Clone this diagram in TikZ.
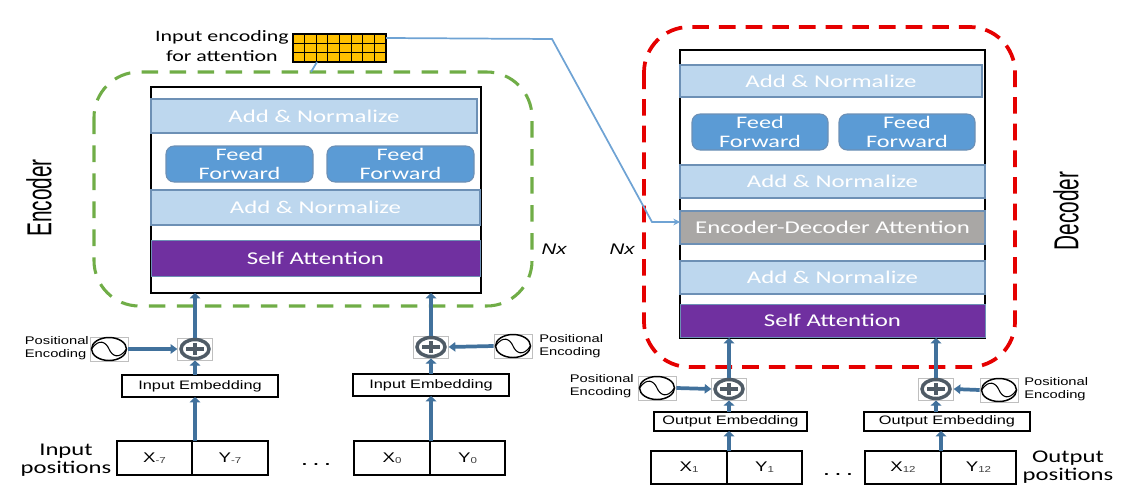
\documentclass[tikz,border=0pt]{standalone}
\usepackage{fontspec}
\setmainfont{Carlito}
\newfontfamily\stretchfont[FakeStretch=1.38]{Carlito}
\newfontfamily\labelfont[FakeStretch=1.33]{Liberation Sans}
\newfontfamily\tallfont[FakeStretch=0.6]{Liberation Sans}
\usetikzlibrary{arrows.meta,calc}
\definecolor{addfill}{HTML}{BDD7EE}
\definecolor{addedge}{HTML}{6D90B5}
\definecolor{ffill}{HTML}{5B9BD5}
\definecolor{purp}{HTML}{7030A0}
\definecolor{greyfill}{HTML}{A9A7A5}
\definecolor{flow}{HTML}{41719C}
\definecolor{attn}{HTML}{6FA3D4}
\definecolor{dgreen}{HTML}{70AD47}
\definecolor{plusc}{HTML}{4F5B66}
\definecolor{gridfill}{HTML}{FFC000}
\tikzset{
  x=0.75pt,y=-0.75pt,
  blk/.style 2 args={anchor=north west,minimum width=#1*0.75pt,minimum height=#2*0.75pt,inner sep=0pt,outer sep=0pt},
  stack/.style={draw=black,line width=2.2pt},
  addnorm/.style={draw=addedge,line width=0.8pt,fill=addfill,text=white,font=\stretchfont\fontsize{13.5}{13.5}\selectfont},
  feed/.style={draw=addedge,line width=0.8pt,fill=ffill,rounded corners=6pt,text=white,align=center,font=\stretchfont\fontsize{13.2}{13.8}\selectfont},
  selfatt/.style={draw=addedge,line width=0.5pt,fill=purp,text=white,font=\stretchfont\fontsize{13.5}{13.5}\selectfont},
  edatt/.style={draw=addedge,line width=0.8pt,fill=greyfill,text=white,font=\stretchfont\fontsize{13.5}{13.5}\selectfont},
  embed/.style={draw=black,line width=1.7pt,fill=white,font=\labelfont\fontsize{9.2}{10}\selectfont},
  cell/.style={draw=black,line width=1.7pt,fill=white,font=\labelfont\fontsize{10.5}{11}\selectfont},
  sinebox/.style={draw=black!25,line width=0.5pt,minimum width=28.5pt,minimum height=18pt,inner sep=0pt},
  plusbox/.style={draw=black!25,line width=0.5pt,minimum width=26pt,minimum height=16.5pt,inner sep=0pt},
  flowarrow/.style={draw=flow,line width=3.6pt,-{Triangle[length=4pt,width=8pt]}},
  flowthin/.style={draw=flow,line width=2.8pt,-{Triangle[length=5pt,width=7pt]}},
  attline/.style={draw=attn,line width=1.3pt},
  enc/.style={draw=dgreen,line width=2.3pt,dash pattern=on 12.5pt off 8.5pt,rounded corners=34pt},
  dec/.style={draw=red!90!black,line width=2.8pt,dash pattern=on 12.5pt off 7.5pt,rounded corners=34pt},
  small/.style={align=left,inner sep=0pt,font=\labelfont\fontsize{8.3}{9.3}\selectfont},
  biglabel/.style={align=center,inner sep=0pt,font=\stretchfont\fontsize{11.9}{14.5}\selectfont},
  poslabel/.style={align=center,inner sep=0pt,font=\stretchfont\fontsize{13.4}{13.6}\selectfont},
  side/.style={rotate=90,inner sep=0pt,font=\tallfont\fontsize{26}{26}\selectfont},
  nx/.style={inner sep=0pt,font=\labelfont\itshape\fontsize{11.5}{11.5}\selectfont},
  dots/.style={inner sep=0pt,font=\labelfont\bfseries\fontsize{10}{10}\selectfont},
}
\newcommand{\sinewave}[1]{%
  \draw[line width=1.1pt] (#1.center) circle [x radius=17.5,y radius=11.5];
  \draw[line width=0.8pt] ($(#1.center)+(-17.5,0)$) .. controls ($(#1.center)+(-10,-11)$) and ($(#1.center)+(-3,-7)$) .. (#1.center) .. controls ($(#1.center)+(3,7)$) and ($(#1.center)+(10,11)$) .. ($(#1.center)+(17.5,0)$);}
\newcommand{\plusmark}[1]{%
  \draw[draw=plusc,line width=2.6pt,fill=white] (#1.center) circle [x radius=14,y radius=9.5];
  \draw[draw=plusc,line width=2.3pt] ($(#1.center)+(-9,0)$) -- ($(#1.center)+(9,0)$) ($(#1.center)+(0,-6)$) -- ($(#1.center)+(0,6)$);}
\newcommand{\sub}[1]{\raisebox{-0.1ex}{\fontsize{6.5}{7}\selectfont\color{black!75} #1}}
\begin{document}
\begin{tikzpicture}
\useasboundingbox (0,0) rectangle (1130,492);
% encoder stack
\node[blk={330}{206},stack] (estack) at (151,87) {};
\node[blk={326}{34},addnorm] (ea2) at (151,99) {Add \& Normalize};
\node[blk={147}{36},feed] (ef1) at (166,146) {Feed\\Forward};
\node[blk={147}{36},feed] (ef2) at (327,146) {Feed\\Forward};
\node[blk={329}{35},addnorm] (ea1) at (151,190) {Add \& Normalize};
\node[blk={329}{36},selfatt] (esa) at (151,240) {Self Attention};
\draw[enc] (94,72) rectangle (532,306);
\node[side] (enclabel) at (39,198) {Encoder};
\node[nx] (nxl) at (554,249) {Nx};
% decoder stack
\node[blk={305}{288},stack] (dstack) at (680,50) {};
\node[blk={302}{32},addnorm] (da3) at (680,65) {Add \& Normalize};
\node[blk={136}{36},feed] (df1) at (692,114) {Feed\\Forward};
\node[blk={136}{36},feed] (df2) at (839,114) {Feed\\Forward};
\node[blk={305}{33},addnorm] (da2) at (680,165) {Add \& Normalize};
\node[blk={305}{33},edatt] (ded) at (680,211) {Encoder-Decoder Attention};
\node[blk={305}{33},addnorm] (da1) at (680,261) {Add \& Normalize};
\node[blk={305}{33},selfatt] (dsa) at (680,304) {Self Attention};
\draw[dec] (644,27) rectangle (1015,367);
\node[side] (declabel) at (1066,211) {Decoder};
\node[nx] (nxr) at (622,249) {Nx};
% attention grid
\node[blk={93}{28},draw=black,line width=1pt,fill=gridfill] (grid) at (293,34) {};
\foreach \i in {1,...,7} {\draw[black,line width=0.7pt] ($(grid.north west)+(\i*11.625,0)$) -- ($(grid.south west)+(\i*11.625,0)$);}
\foreach \j in {1,2} {\draw[black,line width=0.7pt] ($(grid.north west)+(0,\j*9.33)$) -- ($(grid.north east)+(0,\j*9.33)$);}
\node[biglabel,anchor=east] (gridlabel) at (289,46) {Input encoding\\for attention};
\coordinate (gridstub) at (311,72);
\coordinate (bend1) at (552,39);
\coordinate (bend2) at (652,222);
\draw[attline] (grid.south west) ++(24,0) -- (gridstub);
\draw[attline,-{Stealth[length=5pt,width=5pt]}] (grid.east |- 0,38) -- (bend1) -- (bend2) -- (ded.west |- bend2);
% bottom blocks
\node[blk={156}{22},embed] (e1) at (122,375) {Input Embedding};
\node[blk={156}{22},embed] (e2) at (353,374) {Input Embedding};
\node[blk={153}{19},embed] (e3) at (654,412) {Output Embedding};
\node[blk={166}{19},embed] (e4) at (864,412) {Output Embedding};
\node[blk={75}{34},cell] (x1) at (117,441) {X\sub{-7}};
\node[blk={76}{34},cell] (y1) at (192,441) {Y\sub{-7}};
\node[blk={76}{34},cell] (x2) at (354,441) {X\sub{0}};
\node[blk={75}{34},cell] (y2) at (430,441) {Y\sub{0}};
\node[blk={76}{33},cell] (x3) at (651,451) {X\sub{1}};
\node[blk={75}{33},cell] (y3) at (727,451) {Y\sub{1}};
\node[blk={76}{33},cell] (x4) at (865,451) {X\sub{12}};
\node[blk={75}{33},cell] (y4) at (941,451) {Y\sub{12}};
\node[poslabel] (inpos) at (66,460) {Input\\positions};
\node[poslabel] (outpos) at (1068,467) {Output\\positions};
\node[dots] (d1) at (316,465) {. . .};
\node[dots] (d2) at (838,475) {. . .};
% plus nodes
\node[plusbox] (p1) at (195,349) {};
\node[plusbox] (p2) at (431,347) {};
\node[plusbox] (p3) at (729,389) {};
\node[plusbox] (p4) at (936,389) {};
\plusmark{p1}\plusmark{p2}\plusmark{p3}\plusmark{p4}
% sine nodes
\node[sinebox] (s1) at (109,349) {};
\node[sinebox] (s2) at (513,346) {};
\node[sinebox] (s3) at (657,388) {};
\node[sinebox] (s4) at (999,390) {};
\sinewave{s1}\sinewave{s2}\sinewave{s3}\sinewave{s4}
\node[small,anchor=east] (t1) at (89,348) {Positional\\Encoding};
\node[small,anchor=west] (t2) at (539,346) {Positional\\Encoding};
\node[small,anchor=east] (t3) at (634,386) {Positional\\Encoding};
\node[small,anchor=west] (t4) at (1024,389) {Positional\\Encoding};
% flows
\draw[flowarrow] (x1.north -| p1) -- (e1.south -| p1);
\draw[flowarrow] (e1.north -| p1) -- (p1.south);
\draw[flowarrow] (p1.north) -- (estack.south -| p1);
\draw[flowarrow] (x2.north -| p2) -- (e2.south -| p2);
\draw[flowarrow] (e2.north -| p2) -- (p2.south);
\draw[flowarrow] (p2.north) -- (estack.south -| p2);
\draw[flowarrow] (x3.north -| p3) -- (e3.south -| p3);
\draw[flowarrow] (e3.north -| p3) -- (p3.south);
\draw[flowarrow] (p3.north) -- (dstack.south -| p3);
\draw[flowarrow] (y4.north west) -- (y4.north west |- e4.south);
\draw[flowarrow] (e4.north -| p4) -- (p4.south);
\draw[flowarrow] (p4.north) -- (dstack.south -| p4);
\draw[flowthin] (s1.east) -- (p1.west);
\draw[flowthin] (s2.west) -- (p2.east);
\draw[flowthin] (s3.east) -- (p3.west);
\draw[flowthin] (s4.west) -- (p4.east);
\end{tikzpicture}
\end{document}
